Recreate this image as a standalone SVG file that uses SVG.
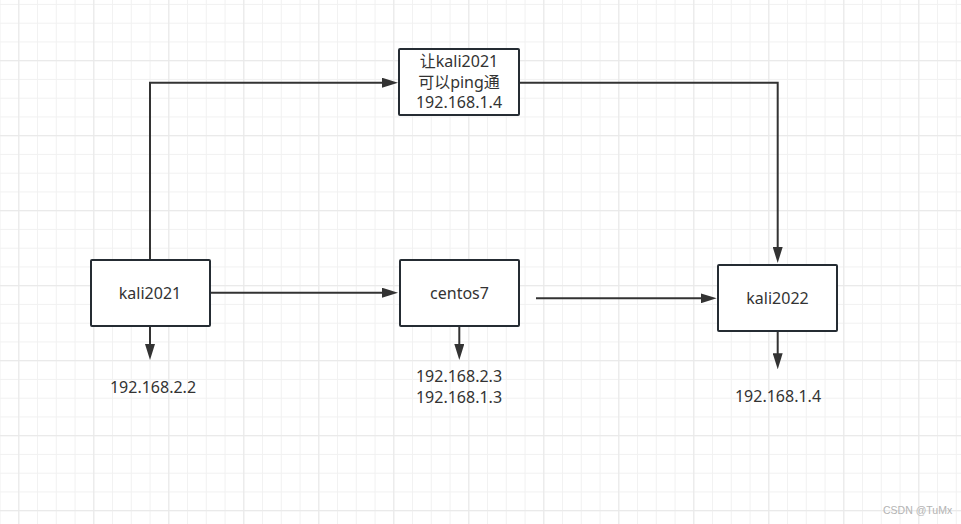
<svg xmlns="http://www.w3.org/2000/svg" width="961" height="524" viewBox="0 0 961 524">
  <style>
    .box { fill: #ffffff; stroke: #252c33; stroke-width: 2; }
    .lbl { font-family: "Noto Sans", "Noto Sans CJK SC", sans-serif; font-size: 16px; fill: #333333; text-anchor: middle; }
    .edge { fill: none; stroke: #333333; stroke-width: 2; }
    .wm { font-family: "Liberation Sans", sans-serif; font-size: 10.5px; fill: #b4b4b4; }
  </style>
  <defs>
    <pattern id="grid" patternUnits="userSpaceOnUse" x="18.3" y="22.7" width="18.75" height="18.75">
      <path d="M0.5,0 V18.75 M0,0.5 H18.75" fill="none" stroke="#f1f1f1" stroke-width="1"/>
    </pattern>
    <pattern id="grid2" patternUnits="userSpaceOnUse" x="18.3" y="60.2" width="75" height="75">
      <path d="M0.5,0 V75 M0,0.5 H75" fill="none" stroke="#e8e8e8" stroke-width="1"/>
    </pattern>
    <marker id="arr" markerUnits="userSpaceOnUse" markerWidth="16" markerHeight="10" refX="8" refY="5" orient="auto">
      <path d="M0,0 L16,5 L0,10 z" fill="#333333"/>
    </marker>
  </defs>
  <rect width="961" height="524" fill="#ffffff"/>
  <rect width="961" height="524" fill="url(#grid)"/>
  <rect width="961" height="524" fill="url(#grid2)"/>

  <g id="connectors">
    <path class="edge" d="M150,260 V82.7 H390" marker-end="url(#arr)"/>
    <path class="edge" d="M520,82.7 H777.7 V255" marker-end="url(#arr)"/>
    <path class="edge" d="M210,292.7 H390" marker-end="url(#arr)"/>
    <path class="edge" d="M536,298.3 H708.7" marker-end="url(#arr)"/>
    <path class="edge" d="M150,327 V352" marker-end="url(#arr)"/>
    <path class="edge" d="M459.3,327 V352" marker-end="url(#arr)"/>
    <path class="edge" d="M777.7,331 V361.3" marker-end="url(#arr)"/>
  </g>

  <g id="node-ping">
    <rect class="box" x="399" y="49" width="120" height="66" rx="1"/>
    <text class="lbl" x="459" y="67">让kali2021</text>
    <text class="lbl" x="459" y="87.5">可以ping通</text>
    <text class="lbl" x="459" y="108">192.168.1.4</text>
  </g>
  <g id="node-kali2021">
    <rect class="box" x="91" y="260" width="119" height="66" rx="1"/>
    <text class="lbl" x="150" y="299">kali2021</text>
  </g>
  <g id="node-centos7">
    <rect class="box" x="400" y="260" width="119" height="66" rx="1"/>
    <text class="lbl" x="459.5" y="299.3">centos7</text>
  </g>
  <g id="node-kali2022">
    <rect class="box" x="718" y="265" width="119" height="66" rx="1"/>
    <text class="lbl" x="777.5" y="304">kali2022</text>
  </g>
  <g id="ip-kali2021">
    <text class="lbl" x="153" y="392.7">192.168.2.2</text>
  </g>
  <g id="ip-centos7">
    <text class="lbl" x="459" y="381.7">192.168.2.3</text>
    <text class="lbl" x="459" y="402.7">192.168.1.3</text>
  </g>
  <g id="ip-kali2022">
    <text class="lbl" x="778" y="401.7">192.168.1.4</text>
  </g>
  <text class="wm" x="883" y="514">CSDN @TuMx</text>
</svg>
